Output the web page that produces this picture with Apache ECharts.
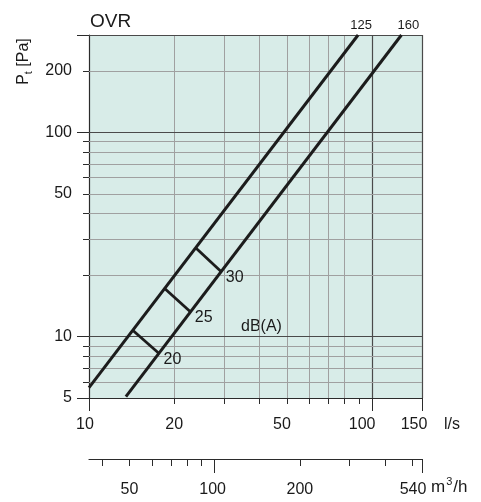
<!DOCTYPE html>
<html><head><meta charset="utf-8">
<script src="https://cdn.jsdelivr.net/npm/echarts@6/dist/echarts.min.js"></script>
<style>html,body{margin:0;padding:0;background:#fff}#c{width:481px;height:502px}</style>
</head><body><div id="c"></div>
<script>
// ---------- data ----------
const duct125Flow = [10, 89.2];          // l/s
const duct125Pressure = [5.62, 300];     // Pa
const duct160Flow = [13.5, 126.9];
const duct160Pressure = [5.08, 300];
const ductNames = ['125', '160'];

const dbLevels = [20, 25, 30];
const dbFlow125 = [14.3, 18.5, 23.9];
const dbPres125 = [10.7, 17.2, 27.1];
const dbFlow160 = [17.6, 22.7, 29.2];
const dbPres160 = [8.3, 13.3, 20.9];

// ---------- axis ticks / labels ----------
const flowLabels = [10, 20, 50, 100, 150];
const flowMinorTicks = [20, 30, 40, 50, 60, 70, 80, 90];
const flowMajorTicks = [10, 100, 150];
const flowGridGray = [20, 30, 40, 50, 60, 70, 80];
const flowGridDark = [100, 150];

const presLabels = [5, 10, 50, 100, 200];
const presMinorTicks = [6, 7, 8, 9, 20, 30, 40, 50, 60, 70, 80, 90, 200];
const presMajorTicks = [5, 10, 100, 300];
const presGridGray = [6, 7, 8, 9, 20, 30, 40, 50, 60, 70, 80, 90, 200];
const presGridDark = [10, 100, 300];

const m3hLabels = [50, 100, 200, 540];
const m3hMinorTicks = [40, 50, 60, 70, 80, 90, 200, 300, 400, 500];
const m3hMajorTicks = [100, 540];

// ---------- styling ----------
const FONT = '"Liberation Sans", Arial, Helvetica, sans-serif';
const INK = '#1a1a1a';
const AXIS = '#2b2b2b';
const GRAY = '#a0a0a0';
const DARK = '#4a4a4a';
const flowLabelPad = {10: 8, 20: 0, 50: 10, 100: 20, 150: 16};
const m3hLabelPad = {50: 0, 100: 4, 200: 0, 540: 18};

function richFor(values, pads) {
  const r = {};
  values.forEach(v => { r['s' + v] = {fontSize: 16, fontFamily: FONT, color: INK, padding: [0, pads[v] || 0, 0, 0]}; });
  return r;
}
const richFmt = v => { const k = Math.round(v); return '{s' + k + '|' + k + '}'; };

const mainRect = {left: 89, right: 59, top: 35, bottom: 104};
const m3hRect = {left: 89, right: 59, top: 440, bottom: 43};

const chart = echarts.init(document.getElementById('c'), null, {renderer: 'canvas'});

const gridLines = []
  .concat(flowGridGray.map(v => ({xAxis: v, lineStyle: {color: GRAY, width: 1, type: 'solid'}})))
  .concat(flowGridDark.map(v => ({xAxis: v, lineStyle: {color: DARK, width: 1.2, type: 'solid'}})))
  .concat(presGridGray.map(v => ({yAxis: v, lineStyle: {color: GRAY, width: 1, type: 'solid'}})))
  .concat(presGridDark.map(v => ({yAxis: v, lineStyle: {color: DARK, width: 1.2, type: 'solid'}})));

const ductSeries = [[duct125Flow, duct125Pressure], [duct160Flow, duct160Pressure]].map((d, i) => {
  const flow = d[0], pres = d[1];
  const data = flow.map((f, j) => [f, pres[j]]);
  const last = data.length - 1;
  data[last] = {value: data[last], label: {show: true, position: 'top', distance: 5,
    offset: [i === 0 ? 3 : 7, 2], formatter: ductNames[i], fontSize: 13, fontFamily: FONT, color: INK}};
  return {
    type: 'line', xAxisIndex: 0, yAxisIndex: 0, z: 3, clip: false,
    symbol: 'circle', symbolSize: 0, showSymbol: true,
    lineStyle: {color: '#1c1c1c', width: 3, cap: 'butt'},
    itemStyle: {color: '#1c1c1c'},
    data: data, silent: true
  };
});

const markerSeries = dbLevels.map((lvl, i) => ({
  type: 'line', xAxisIndex: 0, yAxisIndex: 0, z: 3, clip: false,
  symbol: 'circle', symbolSize: 0, showSymbol: true,
  lineStyle: {color: '#1c1c1c', width: 2.8, cap: 'butt'},
  itemStyle: {color: '#1c1c1c'},
  silent: true,
  data: [
    [dbFlow125[i], dbPres125[i]],
    {value: [dbFlow160[i], dbPres160[i]], label: {show: true, position: 'right', distance: 4,
      offset: [1, 6.5], formatter: String(lvl), fontSize: 16, fontFamily: FONT, color: INK}}
  ]
}));

const option = {
  animation: false,
  grid: [
    Object.assign({show: true, backgroundColor: '#d8ece8', borderWidth: 0}, mainRect),
    Object.assign({show: false}, mainRect),
    Object.assign({show: false}, m3hRect),
    Object.assign({show: false}, m3hRect)
  ],
  xAxis: [
    {gridIndex: 0, type: 'log', logBase: 10, min: 10, max: 150, position: 'bottom',
      axisLine: {show: true, onZero: false, lineStyle: {color: AXIS, width: 1.2}},
      axisTick: {show: true, customValues: flowMinorTicks, length: 6, lineStyle: {color: AXIS}},
      axisLabel: {show: true, customValues: flowLabels, margin: 19, formatter: richFmt, rich: richFor(flowLabels, flowLabelPad)},
      splitLine: {show: false}, minorTick: {show: false}, minorSplitLine: {show: false}},
    {gridIndex: 1, type: 'log', logBase: 10, min: 10, max: 150, position: 'bottom',
      axisLine: {show: false, onZero: false},
      axisTick: {show: true, customValues: flowMajorTicks, length: 13, lineStyle: {color: AXIS}},
      axisLabel: {show: false}, splitLine: {show: false}},
    {gridIndex: 2, type: 'log', logBase: 10, min: 36, max: 540, position: 'bottom',
      axisLine: {show: true, onZero: false, lineStyle: {color: AXIS, width: 1.2}},
      axisTick: {show: true, customValues: m3hMinorTicks, length: 7, lineStyle: {color: AXIS}},
      axisLabel: {show: true, customValues: m3hLabels, margin: 23, formatter: richFmt, rich: richFor(m3hLabels, m3hLabelPad)},
      splitLine: {show: false}},
    {gridIndex: 3, type: 'log', logBase: 10, min: 36, max: 540, position: 'bottom',
      axisLine: {show: false, onZero: false},
      axisTick: {show: true, customValues: m3hMajorTicks, length: 14, lineStyle: {color: AXIS}},
      axisLabel: {show: false}, splitLine: {show: false}}
  ],
  yAxis: [
    {gridIndex: 0, type: 'log', logBase: 10, min: 5, max: 300, position: 'left',
      axisLine: {show: true, onZero: false, lineStyle: {color: AXIS, width: 1.2}},
      axisTick: {show: true, customValues: presMinorTicks, length: 6, lineStyle: {color: AXIS}},
      axisLabel: {show: true, customValues: presLabels, margin: 17, fontSize: 16, fontFamily: FONT, color: INK},
      splitLine: {show: false}, minorTick: {show: false}, minorSplitLine: {show: false}},
    {gridIndex: 1, type: 'log', logBase: 10, min: 5, max: 300, position: 'left',
      axisLine: {show: false, onZero: false},
      axisTick: {show: true, customValues: presMajorTicks, length: 12, lineStyle: {color: AXIS}},
      axisLabel: {show: false}, splitLine: {show: false}},
    {gridIndex: 2, type: 'value', min: 0, max: 1, show: false},
    {gridIndex: 3, type: 'value', min: 0, max: 1, show: false}
  ],
  series: [
    {type: 'line', xAxisIndex: 0, yAxisIndex: 0, data: [], z: 1, silent: true,
      markLine: {silent: true, z: 1, symbol: ['none', 'none'], label: {show: false}, animation: false,
        emphasis: {disabled: true}, data: gridLines}}
  ].concat(ductSeries, markerSeries),
  graphic: [
    {type: 'text', left: 90, top: 12, style: {text: 'OVR', fontSize: 19, fontFamily: FONT, fill: INK}},
    {type: 'text', x: 28.5, y: 61.5, rotation: Math.PI / 2,
      style: {text: '{p|P}{t|t}{p| [Pa]}', align: 'center', verticalAlign: 'middle',
        rich: {p: {fontSize: 16, fontFamily: FONT, fill: INK, lineHeight: 16, verticalAlign: 'top'},
               t: {fontSize: 11, fontFamily: FONT, fill: INK, lineHeight: 25}}}},
    {type: 'text', x: 444, y: 425, style: {text: 'l/s', fontSize: 16, fontFamily: FONT, fill: INK, verticalAlign: 'middle'}},
    {type: 'text', x: 431, y: 486, style: {text: '{m|m}{s|3}{m|/h}', verticalAlign: 'middle',
      rich: {m: {fontSize: 17, fontFamily: FONT, fill: INK, lineHeight: 20, verticalAlign: 'bottom'},
             s: {fontSize: 11, fontFamily: FONT, fill: INK, lineHeight: 20, verticalAlign: 'top', padding: [0, 1, 0, 1]}}}},
    {type: 'text', x: 241, y: 326.5, style: {text: 'dB(A)', fontSize: 16, fontFamily: FONT, fill: INK, verticalAlign: 'middle'}}
  ]
};
chart.setOption(option);
</script></body></html>
